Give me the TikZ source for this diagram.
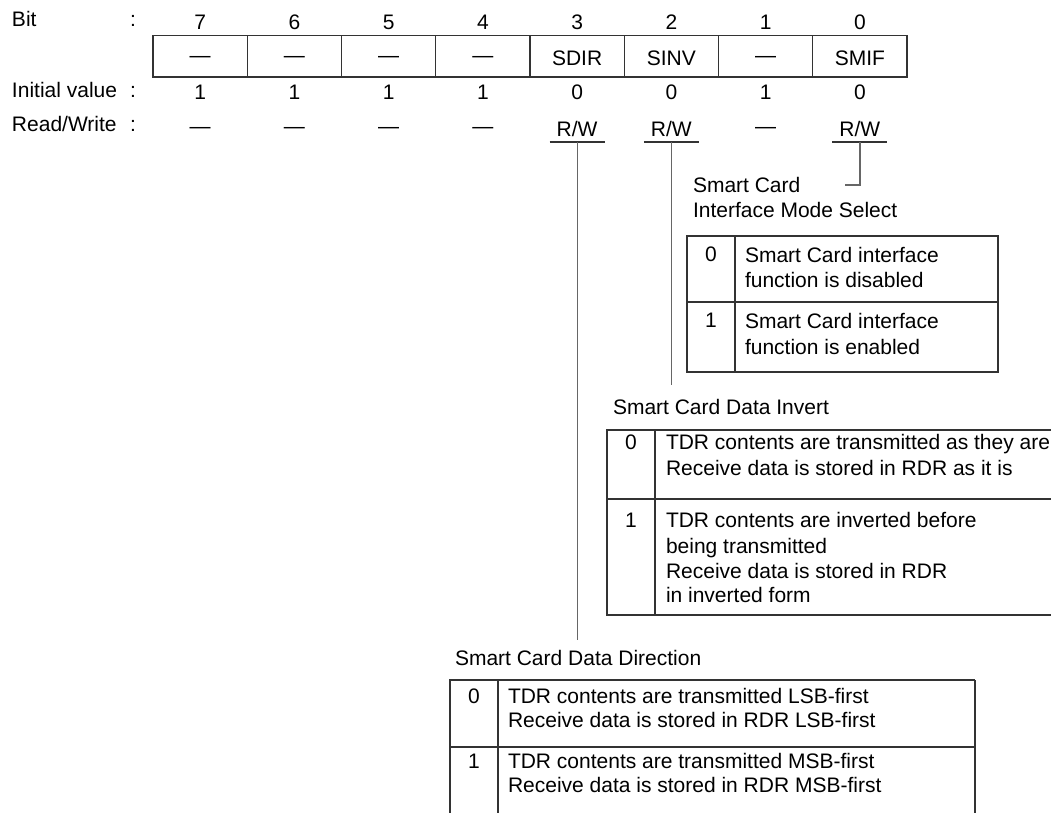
\documentclass[tikz,border=0pt]{standalone}
\usepackage{fontspec}
\setmainfont{Liberation Sans}
\begin{document}
\begin{tikzpicture}[x=0.75pt,y=-0.75pt,
  every node/.style={inner sep=0pt, outer sep=0pt, font=\fontsize{15.75pt}{18.75pt}\selectfont},
  txt/.style={anchor=base west},
  ctr/.style={anchor=base},
  cellbox/.style={draw=black!80, line width=1pt, anchor=north west, minimum width=70.69pt, minimum height=31.1pt},
  tbl/.style={draw=black!80, line width=1pt},
  conn/.style={draw=black!60, line width=0.9pt}]
\useasboundingbox (0,0) rectangle (1051,813);

% row labels
\node[txt] (lbit) at (12,27) {Bit};
\node[ctr] (cbit) at (133,27) {:};
\node[txt] (linit) at (12,98) {Initial value};
\node[ctr] (cinit) at (133,98) {:};
\node[txt] (lrw) at (12,132) {Read/Write};
\node[ctr] (crw) at (133,132) {:};

% register cells
\foreach \b [count=\k from 0] in {7,6,5,4,3,2,1,0}
  \node[cellbox] (cell\b) at ({153+\k*94.25},35.5) {};

% bit numbers
\foreach \b [count=\k from 0] in {7,6,5,4,3,2,1,0}
  \node[ctr] (num\b) at ({200.1+\k*94.25},30) {\b};

% field names
\foreach \t/\yy [count=\k from 0] in {—/63,—/63,—/63,—/63,SDIR/66,SINV/66,—/63,SMIF/66}
  \node[ctr] (fld\k) at ({200.1+\k*94.25},\yy) {\t};

% initial values
\foreach \t [count=\k from 0] in {1,1,1,1,0,0,1,0}
  \node[ctr] (ini\k) at ({200.1+\k*94.25},100) {\t};

% read/write
\foreach \t/\yy [count=\k from 0] in {—/134,—/134,—/134,—/134,{R/W}/137,{R/W}/137,—/134,{R/W}/137}
  \node[ctr] (rw\k) at ({200.1+\k*94.25},\yy) {\t};

% underlines under R/W
\coordinate (u3l) at (549.6,142); \coordinate (u3r) at (604.6,142);
\coordinate (u2l) at (643.9,142); \coordinate (u2r) at (698.9,142);
\coordinate (u0l) at (832.4,142); \coordinate (u0r) at (887.4,142);
\draw[tbl] (u3l) -- (u3r);
\draw[tbl] (u2l) -- (u2r);
\draw[tbl] (u0l) -- (u0r);

% connectors
\coordinate (t3) at (577.1,142); \coordinate (e3) at (577.1,640);
\coordinate (t2) at (671.4,142); \coordinate (e2) at (671.4,385);
\coordinate (t0) at (859.9,142); \coordinate (e0) at (845,185);
\draw[conn] (t3) -- (e3);
\draw[conn] (t2) -- (e2);
\draw[conn] (t0) |- (e0);

% SMIF description
\node[txt] (smifa) at (693,193) {Smart Card};
\node[txt] (smifb) at (693,218) {Interface Mode Select};
\draw[tbl] (687,236) rectangle (998,372);
\draw[tbl] (735,236) -- (735,372);
\draw[tbl] (687,302) -- (998,302);
\node[ctr] (smif0) at (711,262) {0};
\node[txt] (smif0a) at (745,263) {Smart Card interface};
\node[txt] (smif0b) at (745,288) {function is disabled};
\node[ctr] (smif1) at (711,328) {1};
\node[txt] (smif1a) at (745,329) {Smart Card interface};
\node[txt] (smif1b) at (745,354) {function is enabled};

% SINV description
\node[txt] (sinvl) at (613,415) {Smart Card Data Invert};
\draw[tbl] (1051,430) -- (607,430) -- (607,615) -- (1051,615);
\draw[tbl] (607,499) -- (1051,499);
\draw[tbl] (655,430) -- (655,615);
\node[ctr] (sinv0) at (631,450) {0};
\node[txt] (sinv0a) at (666,450) {TDR contents are transmitted as they are};
\node[txt] (sinv0b) at (666,475) {Receive data is stored in RDR as it is};
\node[ctr] (sinv1) at (631,527) {1};
\node[txt] (sinv1a) at (666,527) {TDR contents are inverted before};
\node[txt] (sinv1b) at (666,553) {being transmitted};
\node[txt] (sinv1c) at (666,578) {Receive data is stored in RDR};
\node[txt] (sinv1d) at (666,602) {in inverted form};

% SDIR description
\node[txt] (sdirl) at (455,665) {Smart Card Data Direction};
\draw[tbl] (975,680) -- (450,680) -- (450,813);
\draw[tbl] (450,747) -- (975,747);
\draw[tbl] (498,680) -- (498,813);
\draw[tbl] (975,680) -- (975,813);
\node[ctr] (sdir0) at (474,703) {0};
\node[txt] (sdir0a) at (508,703) {TDR contents are transmitted LSB-first};
\node[txt] (sdir0b) at (508,727) {Receive data is stored in RDR LSB-first};
\node[ctr] (sdir1) at (474,768) {1};
\node[txt] (sdir1a) at (508,768) {TDR contents are transmitted MSB-first};
\node[txt] (sdir1b) at (508,792) {Receive data is stored in RDR MSB-first};
\end{tikzpicture}
\end{document}
